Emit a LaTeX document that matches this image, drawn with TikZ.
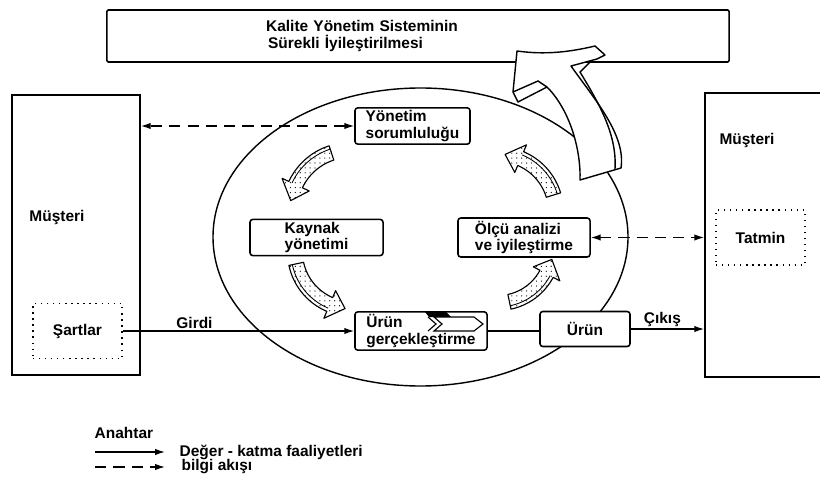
\documentclass[tikz,border=0pt]{standalone}
\usepackage{fontspec}
\setmainfont{Liberation Sans}
\usetikzlibrary{arrows.meta,patterns.meta}
\begin{document}
\begin{tikzpicture}[x=0.025cm,y=-0.025cm,>={Latex[length=7pt,width=4.5pt]},
    font=\bfseries\fontsize{11}{11.5}\selectfont,
    kutu/.style={draw,line width=1.1pt,rounded corners=2pt,fill=white,align=left,inner ysep=2pt},
    musteri/.style={draw,line width=1.1pt,minimum width=3.2cm,minimum height=7cm},
    noktali/.style={draw,line width=1pt,dash pattern=on .9pt off 3.4pt,minimum width=2.225cm,minimum height=1.375cm},
    deger/.style={line width=.9pt},
    bilgi/.style={line width=.9pt,dash pattern=on 8pt off 5pt},
    fatok/.style={line width=.8pt,line join=round,preaction={fill=white},pattern={Dots[distance=3.5pt,radius=.45pt]}},
    yazi/.style={inner sep=1pt}]
\useasboundingbox (0,0) rectangle (820,478);
\clip (0,0) rectangle (820,478);

% cycle
\draw[line width=1pt] (420.5,237) ellipse [x radius=207.5,y radius=149];

% top box
\node[kutu,rounded corners=1pt,minimum width=15.55cm,minimum height=1.3cm,text width=15.55cm,inner xsep=0pt] (kalite) at (418,36)
    {\hspace*{3.98cm}Kalite Yönetim Sisteminin\\\hspace*{4.03cm}Sürekli İyileştirilmesi};

% customers
\node[musteri] (musteriL) at (76,235) {};
\node[yazi] (musteriLyazi) at (57,218) {Müşteri};
\node[noktali] (sartlar) at (77.5,331) {Şartlar};
\node[musteri,minimum width=3.5cm,minimum height=7.1cm] (musteriR) at (775,235) {};
\node[yazi] (musteriRyazi) at (747,141) {Müşteri};
\node[noktali] (tatmin) at (760.5,237.5) {Tatmin};

% processes
\node[kutu,minimum width=2.875cm,minimum height=.8cm] (yonetim) at (412.5,126) {Yönetim\\sorumluluğu};
\node[kutu,minimum width=3.325cm,minimum height=.875cm] (kaynak) at (316.5,237.5) {Kaynak\\yönetimi};
\node[kutu,minimum width=3.3cm,minimum height=.975cm] (olcu) at (524,237.5) {Ölçü analizi\\ve iyileştirme};
\node[kutu,minimum width=3.3cm,minimum height=.875cm] (urung) at (421,331) {Ürün\\gerçekleştirme};
\node[kutu,minimum width=2.25cm,minimum height=.875cm] (urun) at (585,329) {Ürün};

% small arrow in the realisation box
\fill (425,312) -- (446,312) -- (451,317) -- (429,317) -- cycle;
\draw[line width=.8pt] (428,317) -- (436,324) -- (428,331);
\draw[line width=.8pt,fill=white] (434,317) -- (474,317) -- (483,324) -- (474,331) -- (434,331) -- (442,324) -- cycle;

% flows
\draw[bilgi,<->] (yonetim.west) -- (yonetim.west -| musteriL.east);
\draw[bilgi,<->] (olcu.east) -- (olcu.east -| musteriR.west);
\draw[deger,->] (sartlar.east) -- (urung.west) node[yazi,above,pos=.31] (girdi) {Girdi};
\draw[deger] (urung.east) -- (urung.east -| urun.west);
\draw[deger,->] (urun.east) -- (urun.east -| musteriR.west) node[yazi,above,pos=.43] (cikis) {Çıkış};

% curved arrows of the cycle
\foreach \cx/\cy/\r/\a/\m/\b in {350/210/60/252/205/189,352/252/57/168/113/97,498/248/55/78/28/12,498/212/58/-17/-67/-83}
{
    \draw[fatok] plot[smooth,domain=\a:\m,samples=12] ({\cx+(\r+7.5)*cos(\x)},{\cy+(\r+7.5)*sin(\x)})
        -- ({\cx+(\r+15)*cos(\m)},{\cy+(\r+15)*sin(\m)})
        -- ({\cx+\r*cos(\b)},{\cy+\r*sin(\b)})
        -- ({\cx+(\r-15)*cos(\m)},{\cy+(\r-15)*sin(\m)})
        -- plot[smooth,domain=\m:\a,samples=12] ({\cx+(\r-7.5)*cos(\x)},{\cy+(\r-7.5)*sin(\x)})
        -- cycle;
    \draw[line width=.6pt] plot[smooth,domain=\a:\m,samples=12] ({\cx+(\r+4)*cos(\x)},{\cy+(\r+4)*sin(\x)});
}

% improvement arrow
\draw[line width=1pt,fill=white,line join=round]
    (517,51) .. controls (545,55) and (570,52) .. (595,46) -- (605,55) -- (597,59) -- (571,66)
    .. controls (595,100) and (626,135) .. (621,168) -- (580,180)
    .. controls (581,150) and (570,110) .. (547,87) -- (518,102) -- (513,92) -- cycle;
\draw[line width=1pt] (513,92) -- (538,81) -- (547,87);
\draw[line width=1pt] (591,61) -- (580,72) .. controls (600,105) and (617,135) .. (615,169);

% key
\node[yazi,anchor=west] (anahtar) at (93,433) {Anahtar};
\coordinate (k1) at (95,452);
\coordinate (k2) at (165,452);
\coordinate (k3) at (95,467);
\coordinate (k4) at (165,467);
\draw[deger,->] (k1) -- (k2);
\draw[bilgi,->] (k3) -- (k4);
\node[yazi,anchor=west] (degeryazi) at (178,452) {Değer - katma faaliyetleri};
\node[yazi,anchor=west] (bilgiyazi) at (180,467) {bilgi akışı};
\end{tikzpicture}
\end{document}
